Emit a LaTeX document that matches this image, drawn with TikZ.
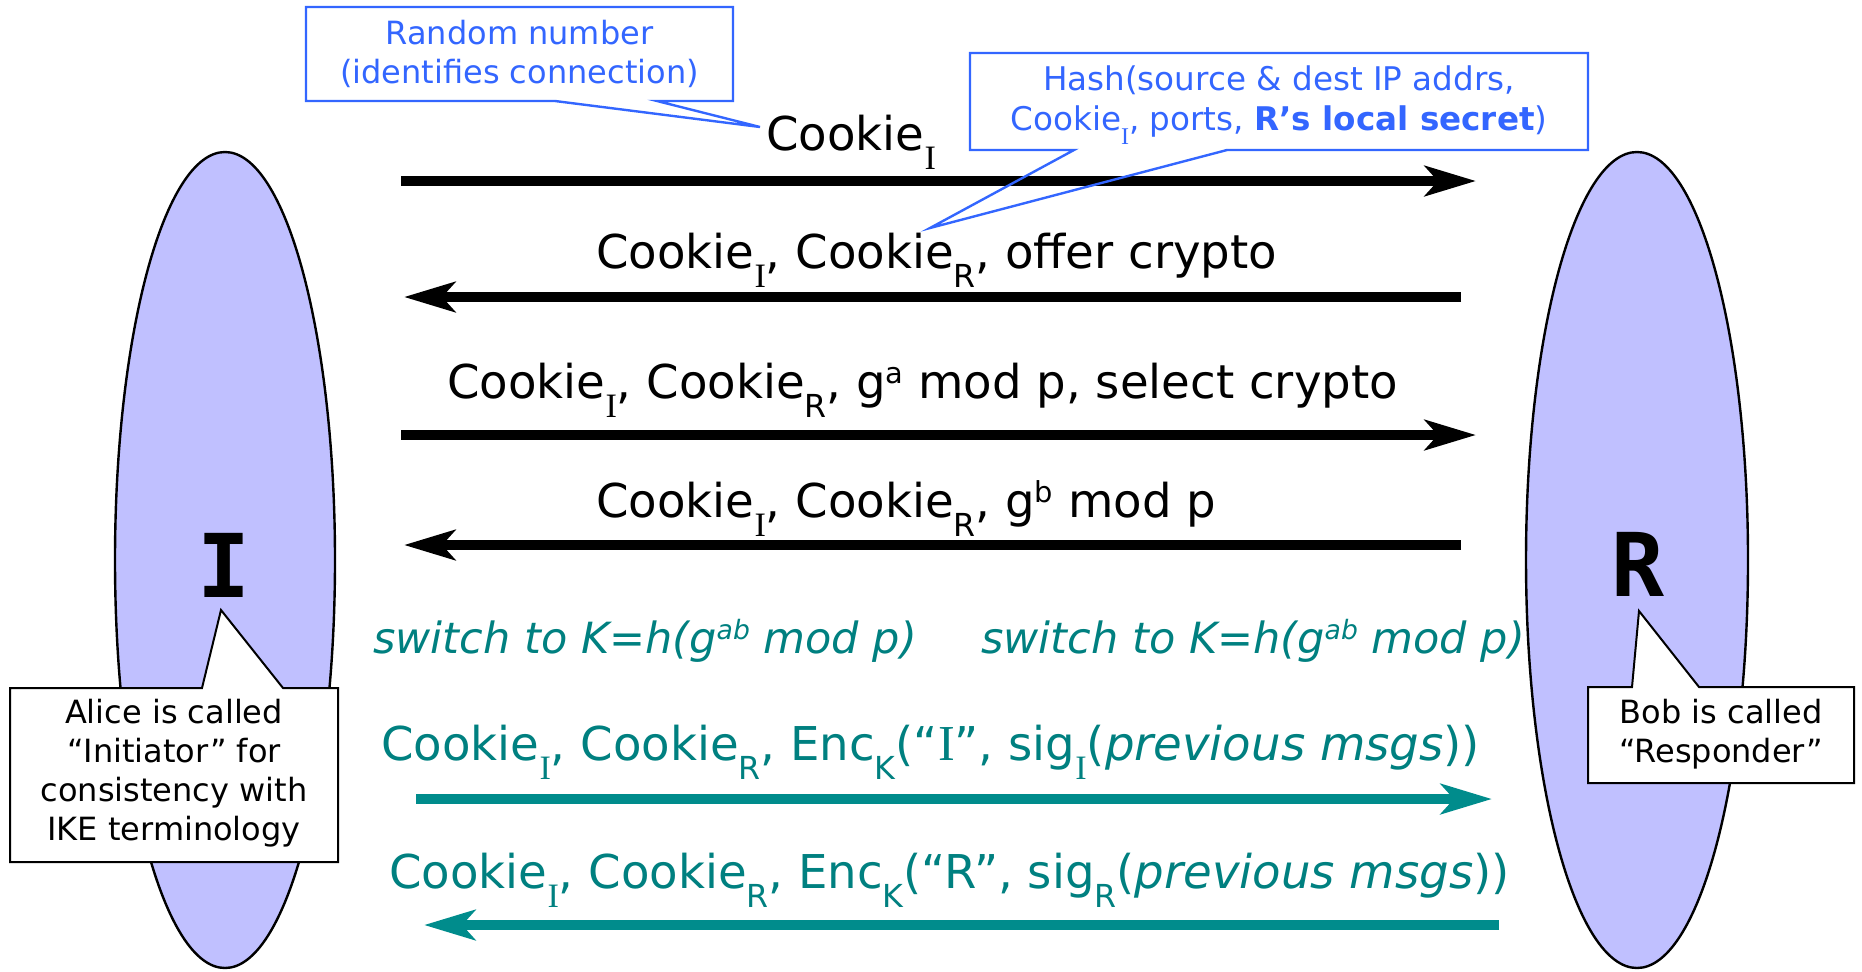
\documentclass[tikz,border=0pt]{standalone}
\usepackage{fontspec}
\usepackage{graphicx}
\setmainfont{DejaVu Sans}
\newfontfamily\serifI{Liberation Serif}
\newfontfamily\monob{DejaVu Sans Mono}
\usetikzlibrary{arrows.meta}

\definecolor{lav}{RGB}{192,192,255}
\definecolor{cblue}{RGB}{51,102,255}
\definecolor{tealtxt}{RGB}{0,128,128}
\definecolor{tealarr}{RGB}{0,140,140}

% lowered / raised small indices
\newcommand\dn[1]{\raisebox{-0.41em}{\scalebox{0.68}{#1}}}
\newcommand\up[1]{\raisebox{0.32em}{\scalebox{0.62}{#1}}}
\newcommand\sI{{\serifI\scalebox{1.08}{I}}}

\begin{document}
\begin{tikzpicture}[x=0.5pt,y=-0.5pt,
  party/.style={draw=black, line width=1.2pt, fill=lav},
  letter/.style={inner sep=0pt, font=\monob\bfseries\fontsize{44pt}{44pt}\selectfont},
  msg/.style={line width=5pt, -{Stealth[length=25.5pt,width=15pt,inset=6.5pt]}},
  tmsg/.style={msg, draw=tealarr},
  lbl/.style={inner sep=0pt, anchor=base west, font=\fontsize{23.3pt}{27pt}\selectfont},
  tlbl/.style={lbl, text=tealtxt},
  swlbl/.style={lbl, text=tealtxt, font=\fontsize{21.5pt}{26pt}\selectfont\itshape},
  note/.style={inner sep=0pt, align=center, font=\fontsize{16pt}{19.5pt}\selectfont},
  bnote/.style={note, text=cblue},
  wcallout/.style={draw=black, line width=1pt, fill=white, line join=miter},
  bcallout/.style={draw=cblue, line width=1.2pt, line join=miter}]

\useasboundingbox (0,0) rectangle (1862,971);

% the two parties
\draw[party] (225,560) ellipse [x radius=110, y radius=408];
\draw[party] (1637,560) ellipse [x radius=111, y radius=408];
\node[letter] (lI) at (224,565) {I};
\node[letter] (lR) at (1638,564) {R};

% notes on the parties
\draw[wcallout] (10,688) -- (202,688) -- (221,610) -- (283,688) -- (338,688)
  -- (338,862) -- (10,862) -- cycle;
\node[note] (alice) at (174,773)
  {Alice is called\\“Initiator” for\\consistency with\\IKE terminology};
\draw[wcallout] (1588,687) -- (1632,687) -- (1639,611) -- (1699,687) -- (1854,687)
  -- (1854,783) -- (1588,783) -- cycle;
\node[note] (bob) at (1721,734) {Bob is called\\“Responder”};

% message end points
\coordinate (a1s) at (401,181);  \coordinate (a1e) at (1476,181);
\coordinate (a2s) at (1461,297); \coordinate (a2e) at (404,297);
\coordinate (a3s) at (401,435);  \coordinate (a3e) at (1476,435);
\coordinate (a4s) at (1461,545); \coordinate (a4e) at (404,545);
\coordinate (a5s) at (416,799);  \coordinate (a5e) at (1492,799);
\coordinate (a6s) at (1499,925); \coordinate (a6e) at (424,925);

\draw[msg] (a1s) -- (a1e);
\draw[msg] (a2s) -- (a2e);
\draw[msg] (a3s) -- (a3e);
\draw[msg] (a4s) -- (a4e);
\draw[tmsg] (a5s) -- (a5e);
\draw[tmsg] (a6s) -- (a6e);

% message contents
\node[lbl] (t1) at (766,150) {Cookie\dn{\sI}};
\node[lbl] (t2) at (596,268) {Cookie\dn{\sI}, Cookie\dn{R}, offer crypto};
\node[lbl] (t3) at (447,398) {Cookie\dn{\sI}, Cookie\dn{R}, g\up{a} mod p, select crypto};
\node[lbl] (t4) at (596,517) {Cookie\dn{\sI}, Cookie\dn{R}, g\up{b} mod p};
\node[swlbl] (sw1) at (373,653) {switch to K=h(g\up{ab} mod p)};
\node[swlbl] (sw2) at (981,653) {switch to K=h(g\up{ab} mod p)};
\node[tlbl] (t5) at (381,760)
  {Cookie\dn{\sI}, Cookie\dn{R}, Enc\dn{K}(“\sI”, sig\dn{\sI}(\textit{previous msgs}))};
\node[tlbl] (t6) at (389,888)
  {Cookie\dn{\sI}, Cookie\dn{R}, Enc\dn{K}(“R”, sig\dn{R}(\textit{previous msgs}))};

% explanatory notes on the cookies
\draw[bcallout] (306,7) -- (733,7) -- (733,101) -- (657,101) -- (760,127)
  -- (555,101) -- (306,101) -- cycle;
\node[bnote] (rnd) at (519.5,54) {Random number\\(identifies connection)};
\draw[bcallout] (970,53) -- (1588,53) -- (1588,150) -- (1227,150) -- (930,228)
  -- (1074,150) -- (970,150) -- cycle;
\node[bnote, font=\fontsize{16.3pt}{20pt}\selectfont] (hash) at (1279,105)
  {Hash(source \& dest IP addrs,\\Cookie\dn{\sI}, ports, \textbf{R’s local secret})};
\end{tikzpicture}
\end{document}
